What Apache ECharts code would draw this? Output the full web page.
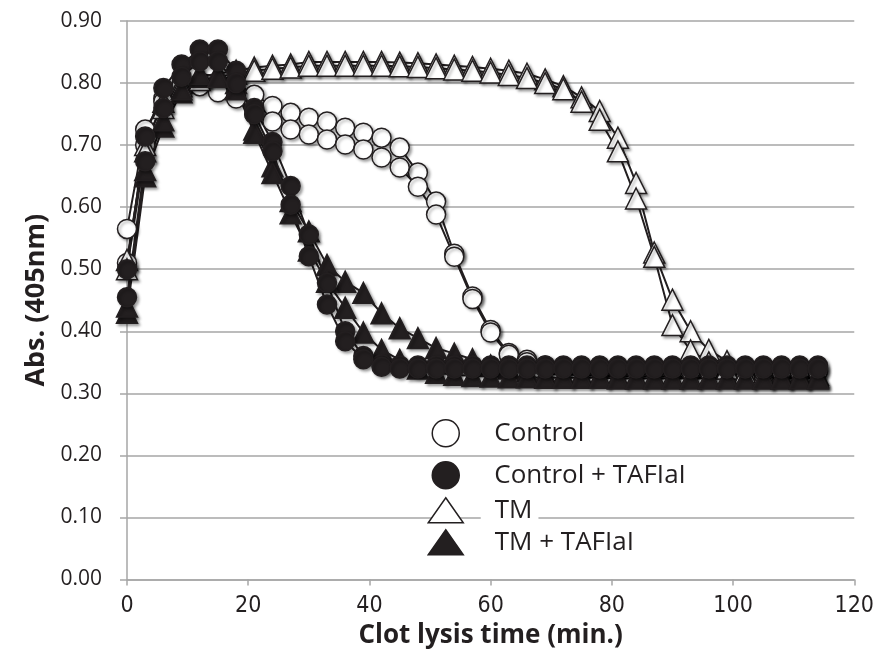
<!DOCTYPE html>
<html>
<head>
<meta charset="utf-8">
<script src="https://cdn.jsdelivr.net/npm/echarts@6/dist/echarts.min.js"></script>
<style>html,body{margin:0;padding:0;background:#fff}#c{width:877px;height:660px}</style>
</head>
<body>
<div id="c"></div>
<script>
// Time points (min.)
var times = [0,3,6,9,12,15,18,21,24,27,30,33,36,39,42,45,48,51,54,57,60,63,66,69,72,75,78,81,84,87,90,93,96,99,102,105,108,111,114];

// Control (two replicates)
var controlA = [0.565,0.725,0.775,0.80,0.80,0.79,0.785,0.781,0.763,0.752,
                0.744,0.738,0.728,0.720,0.712,0.696,0.656,0.609,0.525,0.456,
                0.402,0.365,0.354,0.345,0.342,0.340,0.340,0.339,0.339,0.338,
                0.338,0.338,0.337,0.337,0.337,0.336,0.336,0.336,0.336];
var controlB = [0.51,0.70,0.77,0.795,0.795,0.785,0.775,0.75,0.738,0.725,
                0.717,0.709,0.701,0.693,0.680,0.664,0.633,0.588,0.52,0.452,
                0.398,0.362,0.35,0.343,0.34,0.339,0.338,0.338,0.337,0.337,
                0.337,0.336,0.336,0.336,0.335,0.335,0.335,0.335,0.335];
// Control + TAFIaI
var ctafA = [0.50,0.714,0.792,0.83,0.854,0.854,0.82,0.76,0.705,0.634,
             0.556,0.478,0.40,0.36,0.347,0.345,0.345,0.345,0.345,0.345,
             0.345,0.345,0.345,0.345,0.345,0.345,0.345,0.345,0.345,0.345,
             0.345,0.345,0.345,0.345,0.345,0.345,0.345,0.345,0.345];
var ctafB = [0.455,0.674,0.76,0.81,0.835,0.835,0.80,0.75,0.69,0.604,
             0.521,0.443,0.384,0.355,0.343,0.34,0.34,0.34,0.34,0.34,
             0.34,0.34,0.34,0.34,0.34,0.34,0.34,0.34,0.34,0.34,
             0.34,0.34,0.34,0.34,0.34,0.34,0.34,0.34,0.34];
// TM
var tmA = [0.515,0.70,0.77,0.80,0.81,0.815,0.82,0.825,0.828,0.83,
           0.834,0.834,0.834,0.834,0.834,0.833,0.832,0.830,0.828,0.826,
           0.823,0.82,0.815,0.806,0.795,0.777,0.755,0.712,0.639,0.527,
           0.451,0.40,0.37,0.352,0.34,0.335,0.33,0.33,0.33];
var tmB = [0.50,0.69,0.76,0.795,0.805,0.81,0.815,0.82,0.823,0.825,
           0.828,0.828,0.828,0.828,0.828,0.827,0.826,0.824,0.822,0.82,
           0.817,0.813,0.808,0.80,0.79,0.77,0.741,0.69,0.614,0.52,
           0.41,0.369,0.35,0.34,0.333,0.33,0.328,0.327,0.327];
// TM + TAFIaI
var tmtafA = [0.43,0.65,0.73,0.785,0.81,0.815,0.80,0.725,0.666,0.61,
              0.561,0.507,0.48,0.462,0.429,0.405,0.389,0.373,0.364,0.355,
              0.345,0.34,0.335,0.332,0.33,0.33,0.328,0.328,0.327,0.327,
              0.327,0.326,0.326,0.326,0.325,0.325,0.325,0.325,0.325];
var tmtafB = [0.44,0.66,0.74,0.79,0.815,0.81,0.79,0.72,0.655,0.59,
              0.53,0.48,0.438,0.398,0.37,0.354,0.34,0.333,0.33,0.328,
              0.327,0.326,0.326,0.325,0.325,0.325,0.325,0.324,0.324,0.324,
              0.324,0.324,0.324,0.324,0.324,0.324,0.324,0.324,0.324];

var legendNames = ['Control','Control + TAFIaI','TM','TM + TAFIaI'];
var yTicks = [0,0.1,0.2,0.3,0.4,0.5,0.6,0.7,0.8,0.9];

var INK = '#231f20';
function pairs(v){ return times.map(function(t,i){ return [t, v[i]]; }); }
function mk(name, data, symbol, fill, size){
  return {
    name: name, type: 'line', data: pairs(data),
    symbol: symbol, symbolSize: size, showSymbol: true,
    lineStyle: {color: INK, width: 2},
    itemStyle: {color: fill, borderColor: INK, borderWidth: 1.5,
      shadowColor: 'rgba(0,0,0,0.35)', shadowBlur: 3, shadowOffsetX: 2, shadowOffsetY: 2},
    emphasis: {disabled: true}, animation: false
  };
}
var series = [
  mk(legendNames[0], controlA, 'circle', '#fff', 19),
  mk(legendNames[0], controlB, 'circle', '#fff', 19),
  mk(legendNames[2], tmA, 'triangle', '#fff', 21),
  mk(legendNames[2], tmB, 'triangle', '#fff', 21),
  mk(legendNames[3], tmtafA, 'triangle', INK, 21),
  mk(legendNames[3], tmtafB, 'triangle', INK, 21),
  mk(legendNames[1], ctafA, 'circle', INK, 19),
  mk(legendNames[1], ctafB, 'circle', INK, 19)
];

function leg(name, icon, fill, cx, cy, w, h, gap){
  return {
    show: true, data: [{name: name, icon: icon,
      itemStyle: {color: fill, borderColor: INK, borderWidth: 1.5, shadowBlur: 0, shadowOffsetX: 0, shadowOffsetY: 0}}],
    left: cx - w/2, top: cy - 14, itemWidth: w, itemHeight: h, padding: 0,
    selectedMode: false, inactiveColor: INK,
    formatter: '{g| }{t|' + name + '}',
    textStyle: {
      rich: {
        g: {width: gap, fontSize: 26, lineHeight: 28},
        t: {fontFamily: 'Open Sans', fontSize: 26, lineHeight: 28, color: INK,
            backgroundColor: '#fff', padding: [0, 6, 0, 14]}
      }
    }
  };
}

var chart = echarts.init(document.getElementById('c'), null, {renderer: 'canvas'});
chart.setOption({
  backgroundColor: '#fff',
  animation: false,
  grid: {left: 127, right: 16, top: 21, bottom: 80.5, containLabel: false},
  legend: [
    leg(legendNames[0], 'circle', '#fff', 445, 433, 27, 27, 16),
    leg(legendNames[1], 'circle', INK, 445, 475, 27, 27, 16),
    leg(legendNames[2], 'triangle', '#fff', 445, 511, 35, 25, 12.5),
    leg(legendNames[3], 'triangle', INK, 445, 543, 35, 25, 12.5)
  ],
  xAxis: {
    type: 'value', min: 0, max: 120, interval: 20,
    name: 'Clot lysis time (min.)', nameLocation: 'middle', nameGap: 42,
    nameTextStyle: {fontFamily: 'Open Sans', fontWeight: 'bold', fontSize: 26, color: INK},
    axisLine: {show: true, lineStyle: {color: '#a6a6a6', width: 1.5}},
    axisTick: {show: true, inside: false, length: 6, lineStyle: {color: '#a6a6a6', width: 1.5}},
    axisLabel: {margin: 15, fontFamily: 'Liberation Sans Narrow, DejaVu Sans Condensed, sans-serif', fontSize: 23, color: INK},
    splitLine: {show: false}
  },
  yAxis: {
    type: 'value', min: 0, max: 0.9, interval: 0.1,
    name: 'Abs. (405nm)', nameLocation: 'middle', nameGap: 73,
    nameTextStyle: {fontFamily: 'Open Sans', fontWeight: 'bold', fontSize: 27, color: INK},
    axisLine: {show: true, lineStyle: {color: '#a6a6a6', width: 1.5}},
    axisTick: {show: true, inside: false, length: 7, lineStyle: {color: '#a6a6a6', width: 1.5}},
    axisLabel: {margin: 25, fontFamily: 'Open Sans', fontSize: 21, color: INK,
      formatter: function(v){ return v.toFixed(2); }},
    splitLine: {show: true, lineStyle: {color: '#a6a6a6', width: 1.5}}
  },
  series: series
});
</script>
</body>
</html>
